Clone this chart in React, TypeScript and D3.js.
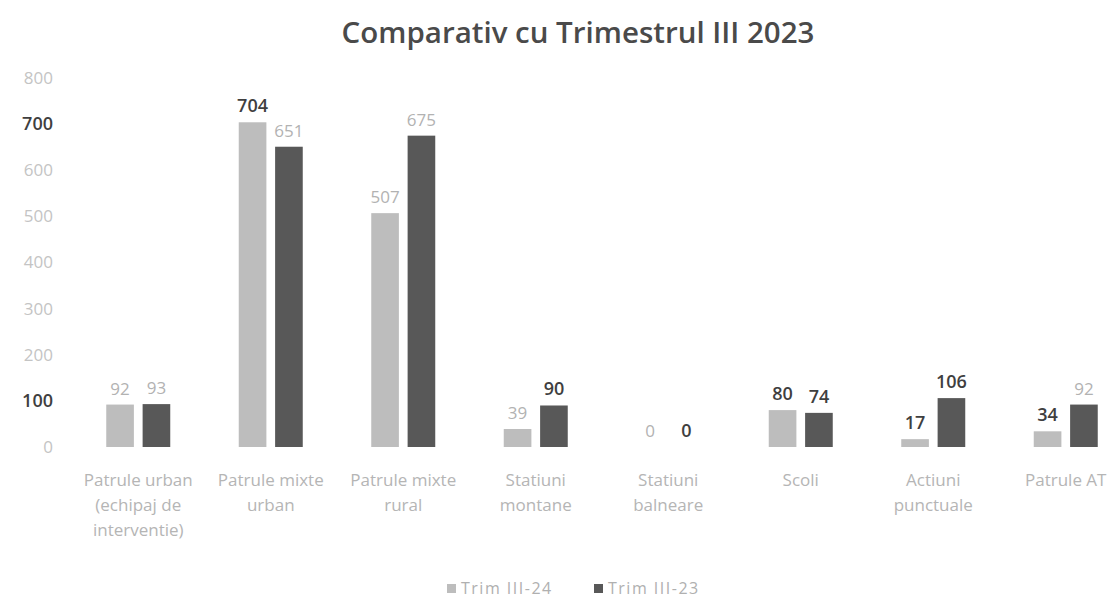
import * as d3 from "d3";

const categories = [
  ["Patrule urban", "(echipaj de", "interventie)"],
  ["Patrule mixte", "urban"],
  ["Patrule mixte", "rural"],
  ["Statiuni", "montane"],
  ["Statiuni", "balneare"],
  ["Scoli"],
  ["Actiuni", "punctuale"],
  ["Patrule AT"],
];
const trim24 = [92, 704, 507, 39, 0, 80, 17, 34];
const trim23 = [93, 651, 675, 90, 0, 74, 106, 92];
// which data labels appear bold/dark in the scan
const bold24 = [false, true, false, false, false, true, true, true];
const bold23 = [false, false, false, true, true, true, true, false];
const yTicks = [0, 100, 200, 300, 400, 500, 600, 700, 800];
const boldTicks = [100, 700];
const seriesNames = ["Trim III-24", "Trim III-23"];
const colors = ["#bdbdbd", "#585858"];

const W = 1112;
const H = 598;
const font = "'Open Sans', 'DejaVu Sans', sans-serif";

export default function App() {
  const x = d3
    .scaleBand<number>()
    .domain(d3.range(categories.length))
    .range([72, 1132])
    .paddingInner(0)
    .paddingOuter(0);
  const inner = d3.scaleBand<number>().domain([0, 1]).range([-32, 32]).paddingInner(0.24);
  const y = d3.scaleLinear().domain([0, 800]).range([447, 78]);

  const labelFill = (b: boolean) => (b ? "#3f3f3f" : "#b2b2b2");

  return (
    <svg width={W} height={H} style={{ position: "absolute", left: 0, top: 0, background: "#fff" }}>
      <text x={578} y={43} textAnchor="middle" fontFamily={font} fontSize={29.5} fontWeight={600} fill="#4a4a4a">
        Comparativ cu Trimestrul III 2023
      </text>

      {yTicks.map((t) => (
        <text
          key={t}
          x={53}
          y={y(t)}
          dy="0.35em"
          textAnchor="end"
          fontFamily={font}
          fontSize={boldTicks.includes(t) ? 18 : 17}
          fontWeight={boldTicks.includes(t) ? 600 : 400}
          fill={boldTicks.includes(t) ? "#3f3f3f" : "#c4c4c4"}
        >
          {t}
        </text>
      ))}

      {categories.map((c, i) => {
        const cx = (x(i) ?? 0) + x.bandwidth() / 2;
        const series = [trim24[i], trim23[i]];
        const bolds = [bold24[i], bold23[i]];
        return (
          <g key={i}>
            {series.map((v, s) => {
              const bx = cx + (inner(s) ?? 0);
              const bw = inner.bandwidth();
              return (
                <g key={s}>
                  <rect x={bx} y={y(v)} width={bw} height={y(0) - y(v)} fill={colors[s]} />
                  <text
                    x={bx + bw / 2}
                    y={y(v) - 10}
                    textAnchor="middle"
                    fontFamily={font}
                    fontSize={bolds[s] ? 18 : 17}
                    fontWeight={bolds[s] ? 600 : 400}
                    fill={labelFill(bolds[s])}
                  >
                    {v}
                  </text>
                </g>
              );
            })}
            <text textAnchor="middle" fontFamily={font} fontSize={17} fill="#b5b5b5">
              {c.map((line, k) => (
                <tspan key={k} x={cx} y={486 + k * 25}>
                  {line}
                </tspan>
              ))}
            </text>
          </g>
        );
      })}

      {seriesNames.map((n, s) => {
        const lx = [447, 594][s];
        return (
          <g key={n}>
            <rect x={lx} y={584} width={9} height={9} fill={colors[s]} />
            <text x={lx + 14} y={594} fontFamily={font} fontSize={16} letterSpacing={1.5} fill="#b0b0b0">
              {n}
            </text>
          </g>
        );
      })}
    </svg>
  );
}
